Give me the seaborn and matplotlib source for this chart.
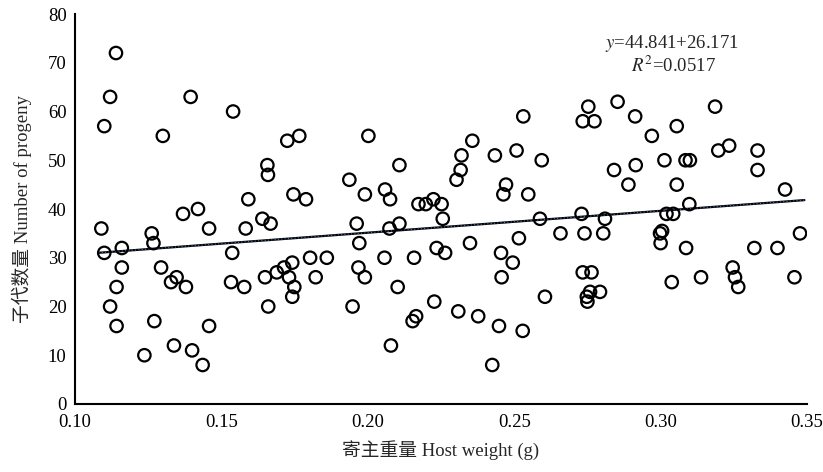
# -*- coding: utf-8 -*-

import numpy as np
import pandas as pd
import matplotlib
matplotlib.use("Agg")
import matplotlib.pyplot as plt
import seaborn as sns


# =============================================================================
# Data
# =============================================================================

host_weight = [
    0.114, 0.112, 0.110, 0.1395, 0.130, 0.154, 0.1725, 0.1766, 0.1657, 0.1659,
    0.1592, 0.1746, 0.1789, 0.1369, 0.142, 0.109, 0.110, 0.116, 0.116, 0.1142,
    0.112, 0.1142, 0.1262, 0.1268, 0.1271, 0.1237, 0.1294, 0.1328, 0.1347, 0.1379,
    0.1338, 0.140, 0.1436, 0.1458, 0.1458, 0.1537, 0.1533, 0.1578, 0.1583, 0.164,
    0.1668, 0.1649, 0.166, 0.1689, 0.1714, 0.1742, 0.1731, 0.1749, 0.1742, 0.1803,
    0.1822, 0.186, 0.1962, 0.1971, 0.1968, 0.199, 0.1948, 0.2074, 0.2108, 0.2057,
    0.2102, 0.2079, 0.2158, 0.2165, 0.2153, 0.2227, 0.2235, 0.2264, 0.2256, 0.2252,
    0.2173, 0.2198, 0.2224, 0.2349, 0.2309, 0.2377, 0.2448, 0.2425, 0.2529, 0.2455,
    0.2457, 0.2495, 0.2516, 0.2605, 0.2588, 0.2658, 0.2002, 0.2108, 0.1937, 0.199,
    0.2059, 0.2076, 0.2303, 0.2317, 0.232, 0.2357, 0.2434, 0.2508, 0.2594, 0.2531,
    0.2472, 0.2463, 0.2548, 0.2753, 0.2734, 0.2774, 0.2853, 0.2913, 0.297, 0.3055,
    0.3186, 0.3197, 0.3234, 0.3331, 0.3331, 0.3425, 0.2841, 0.2915, 0.289, 0.3013,
    0.3085, 0.310, 0.3055, 0.3098, 0.273, 0.281, 0.302, 0.3043, 0.274, 0.2804,
    0.2998, 0.3005, 0.300, 0.3087, 0.332, 0.3399, 0.3476, 0.3246, 0.3254, 0.3265,
    0.3457, 0.3138, 0.3038, 0.2734, 0.2764, 0.2759, 0.2793, 0.2748, 0.275,
]

progeny = [
    72, 63, 57, 63, 55, 60, 54, 55, 49, 47,
    42, 43, 42, 39, 40, 36, 31, 32, 28, 24,
    20, 16, 35, 33, 17, 10, 28, 25, 26, 24,
    12, 11, 8, 16, 36, 31, 25, 24, 36, 38,
    37, 26, 20, 27, 28, 29, 26, 24, 22, 30,
    26, 30, 37, 33, 28, 26, 20, 36, 37, 30,
    24, 12, 30, 18, 17, 21, 32, 31, 38, 41,
    41, 41, 42, 33, 19, 18, 16, 8, 15, 31,
    26, 29, 34, 22, 38, 35, 55, 49, 46, 43,
    44, 42, 46, 48, 51, 54, 51, 52, 50, 59,
    45, 43, 43, 61, 58, 58, 62, 59, 55, 57,
    61, 52, 53, 52, 48, 44, 48, 49, 45, 50,
    50, 50, 45, 41, 39, 38, 39, 39, 35, 35,
    35, 35.5, 33, 32, 32, 32, 35, 28, 26, 24,
    26, 26, 25, 27, 27, 23, 23, 22, 21,
]

# regression as printed on the figure
slope = 44.841
intercept = 26.171
eq_label = r"$\it{y}$=44.841+26.171"
r2_label = r"$\it{R}^{2}$=0.0517"

x_ticks = [0.10, 0.15, 0.20, 0.25, 0.30, 0.35]
x_tick_labels = ["0.10", "0.15", "0.20", "0.25", "0.30", "0.35"]
y_ticks = [0, 10, 20, 30, 40, 50, 60, 70, 80]

x_label = "寄主重量 Host weight (g)"
y_label = "子代数量 Number of progeny"


# =============================================================================
# Plot
# =============================================================================

def main() -> None:
    sns.set_style("white")
    plt.rcParams["font.family"] = ["Liberation Serif", "Noto Sans CJK SC", "DejaVu Sans"]
    plt.rcParams["mathtext.fontset"] = "stix"
    fs = 13.5

    df = pd.DataFrame({"weight": host_weight, "progeny": progeny})

    fig = plt.figure(figsize=(8.23, 4.72), dpi=100)
    ax = fig.add_axes([0.0911, 0.1441, 0.8895, 0.8262])

    sns.scatterplot(
        data=df, x="weight", y="progeny", ax=ax,
        s=80, marker="o", facecolor="none", edgecolor="black",
        linewidth=1.6, zorder=3,
    )

    # fitted line (black with a faint blue dotted overlay, as in the print)
    xs = np.array([min(host_weight) - 0.001, max(host_weight) + 0.0015])
    line_df = pd.DataFrame({"weight": xs, "fit": intercept + slope * xs})
    sns.lineplot(data=line_df, x="weight", y="fit", ax=ax,
                 color="black", linewidth=1.6, zorder=2)
    sns.lineplot(data=line_df, x="weight", y="fit", ax=ax,
                 color="#4a6fb5", linewidth=0.8, linestyle=(0, (1, 2)), zorder=2.5)

    ax.text(0.3039, 74.0, eq_label, ha="center", va="center", fontsize=fs)
    ax.text(0.3045, 69.3, r2_label, ha="center", va="center", fontsize=fs)

    ax.set_xlim(0.10, 0.35)
    ax.set_ylim(0, 80)
    ax.set_xticks(x_ticks)
    ax.set_xticklabels(x_tick_labels)
    ax.set_yticks(y_ticks)
    ax.tick_params(direction="in", length=6, width=1.4, colors="black",
                   labelsize=fs)
    ax.tick_params(axis="x", pad=7)
    ax.tick_params(axis="y", pad=6)

    ax.set_xlabel(x_label, fontsize=fs)
    ax.set_ylabel(y_label, fontsize=fs)
    ax.xaxis.label.set_va("center")
    ax.yaxis.label.set_va("center")
    ax.xaxis.set_label_coords(0.5, -0.118)
    ax.yaxis.set_label_coords(-0.0732, 0.5)

    ax.spines["top"].set_visible(False)
    ax.spines["right"].set_visible(False)
    for side in ("left", "bottom"):
        ax.spines[side].set_color("black")
        ax.spines[side].set_linewidth(1.5)
    ax.grid(False)

    fig.savefig("out.png", dpi=100)
    plt.close(fig)


if __name__ == "__main__":
    main()
